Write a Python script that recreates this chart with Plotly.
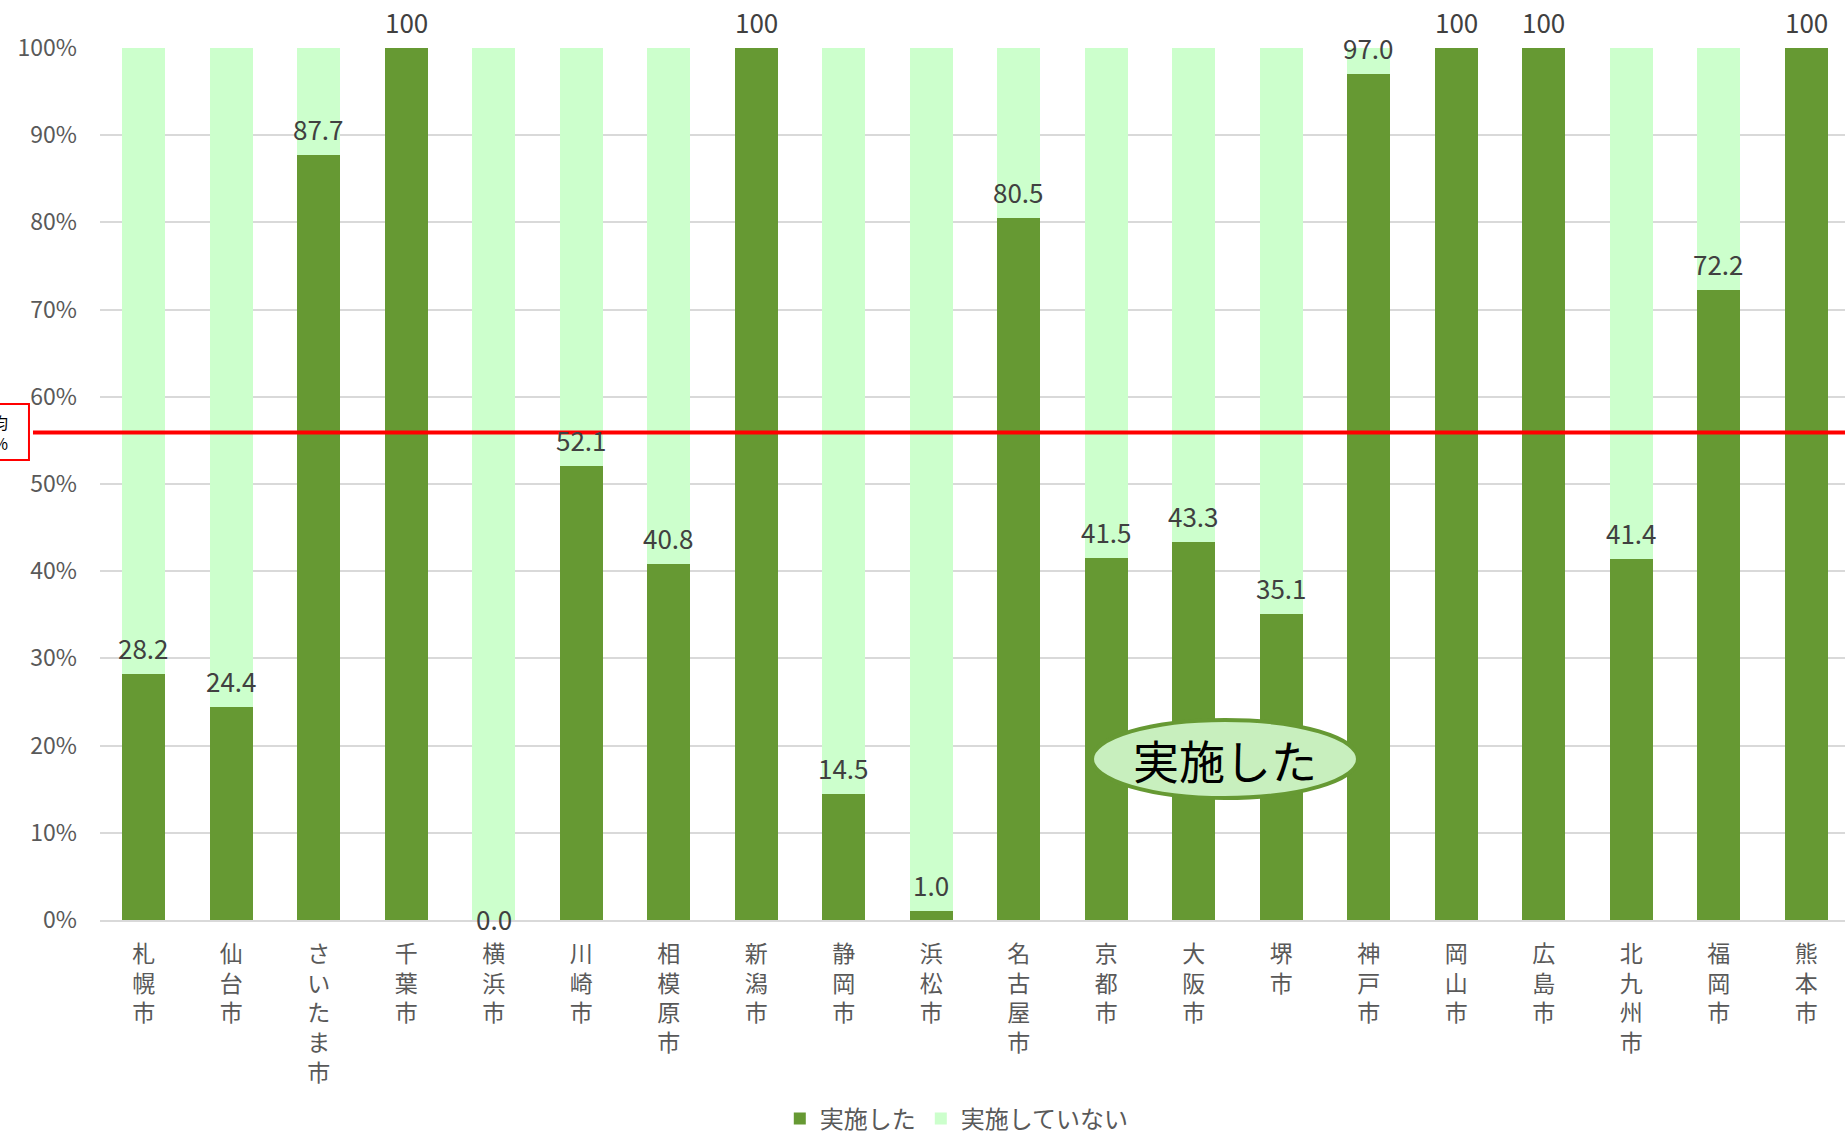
import plotly.graph_objects as go

# Cities (designated cities) and share that carried out the measure (%)
cities = ["札幌市", "仙台市", "さいたま市", "千葉市", "横浜市", "川崎市", "相模原市",
          "新潟市", "静岡市", "浜松市", "名古屋市", "京都市", "大阪市", "堺市",
          "神戸市", "岡山市", "広島市", "北九州市", "福岡市", "熊本市"]
done = [28.2, 24.4, 87.7, 100, 0.0, 52.1, 40.8, 100, 14.5, 1.0,
        80.5, 41.5, 43.3, 35.1, 97.0, 100, 100, 41.4, 72.2, 100]
not_done = [round(100 - v, 1) for v in done]
average = 55.9
y_ticks = list(range(0, 101, 10))
y_tick_text = [f"{t}%" for t in y_ticks]

DARK = "#669933"
LIGHT = "#CCFFCC"
GREY = "#595959"
FONT = "Noto Sans CJK JP"

# vertical category labels: one character per line
vertical = ["<br>".join(list(c)) for c in cities]

fig = go.Figure()
fig.add_trace(go.Bar(x=cities, y=done, name="実施した", marker_color=DARK,
                     marker_line_width=0))
fig.add_trace(go.Bar(x=cities, y=not_done, name="実施していない", marker_color=LIGHT,
                     marker_line_width=0))

# value labels above the dark segment (a zero value sits on the axis)
for c, v in zip(cities, done):
    on_axis = v == 0
    fig.add_annotation(x=c, y=v, text="100" if v == 100 else f"{v:.1f}",
                       showarrow=False,
                       yanchor="middle" if on_axis else "bottom",
                       yshift=2 if on_axis else 6,
                       font=dict(family=FONT, size=26, color="#404040"))

# average line
fig.add_shape(type="line", xref="paper", yref="y", x0=-0.0384, x1=1,
              y0=average, y1=average, line=dict(color="#FF0000", width=4), layer="above")
# average label box (runs off the left edge)
fig.add_shape(type="rect", xref="paper", yref="paper", x0=-0.2, x1=-0.0407,
              y0=0.5275, y1=0.5917, line=dict(color="#FF0000", width=2),
              fillcolor="white", layer="above")
fig.add_annotation(xref="paper", yref="y", x=-0.0516, y=average, text="政令市平均<br>55.9%",
                   showarrow=False, xanchor="right", yanchor="middle", align="right",
                   font=dict(family=FONT, size=16, color="#000000"))

# callout ellipse
fig.add_shape(type="circle", xref="paper", yref="paper", x0=0.5685, x1=0.7209,
              y0=0.1399, y1=0.2294, line=dict(color=DARK, width=4),
              fillcolor="#C8EFBE", layer="above")
fig.add_annotation(xref="paper", yref="paper", x=0.6447, y=0.1846, text="実施した",
                   showarrow=False, xanchor="center", yanchor="middle",
                   font=dict(family=FONT, size=46, color="#000000"))

fig.update_layout(
    barmode="stack",
    bargap=0.51,
    width=1845, height=1137,
    margin=dict(l=100, r=0, t=48, b=217, autoexpand=False),
    plot_bgcolor="white", paper_bgcolor="white",
    font=dict(family=FONT, color=GREY),
    showlegend=True,
    legend=dict(orientation="h", x=0.491, xanchor="center", y=-0.2282, yanchor="middle",
                font=dict(family=FONT, size=24, color=GREY), traceorder="normal",
                itemwidth=30),
)
fig.update_xaxes(
    range=[-0.5, 19.443],
    tickmode="array", tickvals=cities, ticktext=vertical,
    tickangle=0,
    tickfont=dict(family=FONT, size=23, color=GREY),
    showline=True, linecolor="#D9D9D9", linewidth=2,
    showgrid=False, ticks="", ticklabelstandoff=12, automargin=False,
)
fig.update_yaxes(
    range=[0, 100],
    tickmode="array", tickvals=y_ticks, ticktext=y_tick_text,
    tickfont=dict(family=FONT, size=23, color=GREY),
    showgrid=True, gridcolor="#D9D9D9", gridwidth=2,
    zeroline=False, showline=False, ticks="", ticklabelstandoff=22, automargin=False,
)

fig.write_html("out.html")
